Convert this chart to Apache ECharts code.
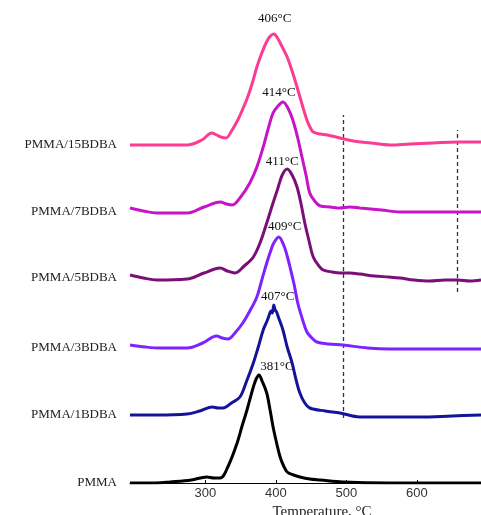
<!DOCTYPE html>
<html>
<head>
<meta charset="utf-8">
<script src="https://cdn.jsdelivr.net/npm/echarts@6/dist/echarts.min.js"></script>
<style>html,body{margin:0;padding:0;background:#fff}#c{width:481px;height:515px}</style>
</head>
<body>
<div id="c"></div>
<script>
// Sample names (bottom to top) and their vertical offsets in the stacked DTG plot
const sampleNames = ['PMMA', 'PMMA/1BDBA', 'PMMA/3BDBA', 'PMMA/5BDBA', 'PMMA/7BDBA', 'PMMA/15BDBA'];
const offsets = [0, 68, 135, 205, 271, 338];
const peakLabels = ['381°C', '407°C', '409°C', '411°C', '414°C', '406°C'];
const colors = ['#000000', '#14149a', '#7f22ff', '#7a0f7a', '#c814c8', '#fa3c92'];
const xTicks = [300, 400, 500, 600];
// dashed guide lines: temperature, bottom, top (in plot units)
const dashTemps = [495, 657];
const dashBottoms = [65, 191];
const dashTops = [368, 353];

// Curves: [temperature °C, DTG intensity (a.u.)]
const curvePMMA = [[193,0],[230,0],[250,1],[280,3],[302,6],[312,5],[321,5],[333,18],[345,40],[352,57],[359,73],[364,86],[368,96],[372,104],[376,108],[381,101],[387,90],[392,72],[396,56],[401,40],[406,26],[411,17],[416,11],[425,8],[434,6],[448,4],[463,3],[495,1],[560,0],[620,0],[691,0]];
const curve1 = [[193,0],[230,0],[274,1],[292,4],[310,8],[318,7],[325,7],[337,12],[349,18],[358,33],[368,52],[375,68],[382,85],[388,95],[391,101],[393,104],[395,102],[397,110],[399,105],[401,103],[404,97],[410,85],[416,68],[423,52],[428,37],[434,22],[441,12],[448,7],[470,4],[491,2],[519,-2],[560,-2],[604,-2],[650,-1],[691,0]];
const curve3 = [[193,3],[215,1],[236,0],[274,0],[296,5],[316,12],[324,10],[332,9],[343,16],[353,25],[363,37],[373,51],[380,68],[387,85],[393,98],[397,105],[404,111],[411,103],[416,92],[420,81],[426,63],[431,45],[438,28],[444,16],[451,10],[458,6],[475,4],[495,3],[530,0],[562,-1],[632,-1],[691,-1]];
const curve5 = [[193,3],[212,0],[231,-2],[274,-1],[298,5],[321,10],[331,7],[342,5],[355,12],[368,21],[378,36],[387,55],[395,73],[402,88],[409,103],[416,109],[423,103],[430,91],[436,73],[441,55],[447,37],[453,21],[460,13],[467,8],[480,6],[491,5],[505,5],[519,4],[540,2],[560,1],[576,0],[596,-2],[618,-3],[640,-2],[658,-2],[675,-3],[691,-2]];
const curve7 = [[193,4],[212,1],[231,-1],[274,-1],[298,5],[321,10],[330,8],[338,7],[350,15],[363,29],[373,45],[382,65],[389,83],[396,99],[403,106],[410,110],[417,104],[424,92],[431,74],[437,55],[443,36],[448,19],[455,11],[463,6],[477,5],[491,4],[505,5],[519,4],[550,2],[576,0],[620,0],[658,0],[691,0]];
const curve15 = [[193,0],[231,0],[274,0],[295,5],[309,12],[316,10],[322,8],[329,7],[337,14],[346,25],[353,36],[360,48],[367,63],[373,78],[380,92],[386,102],[391,108],[397,111],[403,106],[409,98],[416,88],[423,74],[430,58],[437,41],[444,25],[449,17],[453,13],[463,11],[473,10],[491,7],[510,4],[535,2],[562,0],[590,1],[623,2],[658,3],[691,3]];
const curves = [curvePMMA, curve1, curve3, curve5, curve7, curve15];

const labelOffsets = [[18,-8],[4,-8],[6,-10],[-5,-7],[-4,-9],[1,-15]];

const chart = echarts.init(document.getElementById('c'), null, {renderer: 'canvas'});
const series = [];
for (let i = curves.length - 1; i >= 0; i--) {
  const s = {
    name: sampleNames[i],
    type: 'line',
    data: curves[i].map(p => [p[0], p[1] + offsets[i]]),
    showSymbol: false,
    smooth: 0.35,
    lineStyle: {color: colors[i], width: 3},
    itemStyle: {color: colors[i]},
    z: 10 + (curves.length - i),
    markPoint: {
      symbol: 'circle',
      symbolSize: 1,
      itemStyle: {color: 'rgba(0,0,0,0)'},
      label: {
        show: true,
        position: 'inside',
        offset: labelOffsets[i],
        formatter: peakLabels[i],
        color: '#111',
        fontFamily: 'Liberation Serif',
        fontSize: 13
      },
      data: [{type: 'max'}]
    }
  };
  if (i === curves.length - 1) {
    s.markLine = {
      silent: true,
      symbol: ['none', 'none'],
      label: {show: false},
      lineStyle: {color: '#333', type: [4, 3], width: 1.3},
      data: dashTemps.map((t, k) => [{coord: [t, dashBottoms[k]]}, {coord: [t, dashTops[k]]}])
    };
  }
  series.push(s);
}

chart.setOption({
  animation: false,
  backgroundColor: '#fff',
  grid: {left: 130, right: 0, top: 0, bottom: 32, containLabel: false, outerBoundsMode: 'none'},
  xAxis: {
    type: 'value',
    min: 193,
    max: 691,
    name: 'Temperature, °C',
    nameLocation: 'middle',
    nameGap: 17,
    nameTextStyle: {fontFamily: 'Liberation Serif', fontSize: 15, color: '#222', padding: [0, 0, 0, 33]},
    axisLine: {show: true, lineStyle: {color: '#000', width: 1}},
    axisTick: {show: true, inside: true, length: 3, customValues: xTicks, lineStyle: {color: '#000'}},
    axisLabel: {customValues: xTicks, fontFamily: 'Liberation Sans', fontSize: 13, color: '#333', margin: 4},
    splitLine: {show: false}
  },
  yAxis: {
    type: 'value',
    min: 0,
    max: 483,
    axisLine: {show: false},
    axisTick: {show: false},
    splitLine: {show: false},
    axisLabel: {
      customValues: offsets,
      formatter: v => sampleNames[offsets.indexOf(v)] || '',
      fontFamily: 'Liberation Serif',
      fontSize: 13,
      color: '#222',
      margin: 13
    }
  },
  series: series
});
</script>
</body>
</html>
